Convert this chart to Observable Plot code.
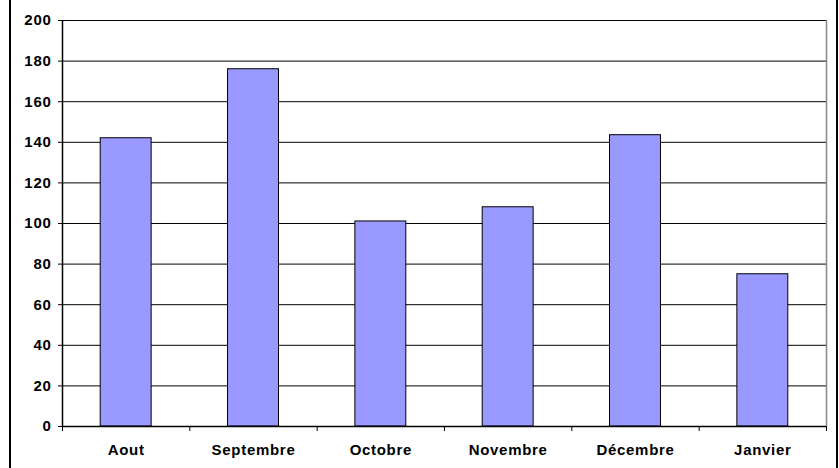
<!DOCTYPE html>
<html>
<head>
<meta charset="utf-8">
<script src="https://cdn.jsdelivr.net/npm/d3@7"></script>
<script src="https://cdn.jsdelivr.net/npm/@observablehq/plot@0.6"></script>
<style>
  body { margin: 0; background: #fff; }
  #wrap { position: relative; width: 839px; height: 468px; }
  #border { position: absolute; left: 9px; top: -2px; width: 829px; height: 472px;
            border-left: 2px solid #000; border-right: 2px solid #000; box-sizing: border-box; pointer-events: none; }
  svg text { letter-spacing: 0.7px; }
</style>
</head>
<body>
<div id="wrap"><div id="border"></div></div>
<script>
const months = ["Aout", "Septembre", "Octobre", "Novembre", "Décembre", "Janvier"];
const values = [142, 176, 101, 108, 143.5, 75];
const yTicks = [0, 20, 40, 60, 80, 100, 120, 140, 160, 180, 200];

const data = months.map((m, i) => ({month: m, i, value: values[i]}));
const boundaries = d3.range(months.length + 1);
const centers = months.map((m, i) => i + 0.5);

const chart = Plot.plot({
  width: 839,
  height: 468,
  marginLeft: 62,
  marginRight: 13,
  marginTop: 20,
  marginBottom: 42,
  style: {fontFamily: "Liberation Sans, Arial, sans-serif", fontSize: "15px", fontWeight: "bold", color: "#000", background: "transparent"},
  x: {domain: [0, months.length]},
  y: {domain: [0, 200]},
  marks: [
    Plot.ruleY(yTicks.filter(d => d > 0), {stroke: "#000", strokeWidth: 1, x1: 0, x2: months.length}),
    Plot.ruleX([months.length], {stroke: "#888", strokeWidth: 1.5}),
    Plot.rectY(data, {x1: d => d.i + 0.3, x2: d => d.i + 0.7, y1: 0, y2: "value", fill: "#9999FF", stroke: "#000", strokeWidth: 1}),
    Plot.ruleY([0], {stroke: "#000", strokeWidth: 1.5}),
    Plot.ruleX([0], {stroke: "#000", strokeWidth: 1.5}),
    Plot.axisY({ticks: yTicks, tickSize: 4, tickPadding: 7, label: null, stroke: "#000", fontWeight: "bold", fontSize: 15}),
    Plot.axisX({ticks: boundaries, tickSize: 5, tickFormat: () => "", label: null, stroke: "#000"}),
    Plot.axisX({ticks: centers, tickSize: 0, tickPadding: 18, tickFormat: (d) => months[Math.floor(d)], label: null, fontWeight: "bold", fontSize: 15})
  ]
});
document.getElementById("wrap").prepend(chart);
chart.style.position = "absolute";
chart.style.left = "0";
chart.style.top = "0";
</script>
</body>
</html>
